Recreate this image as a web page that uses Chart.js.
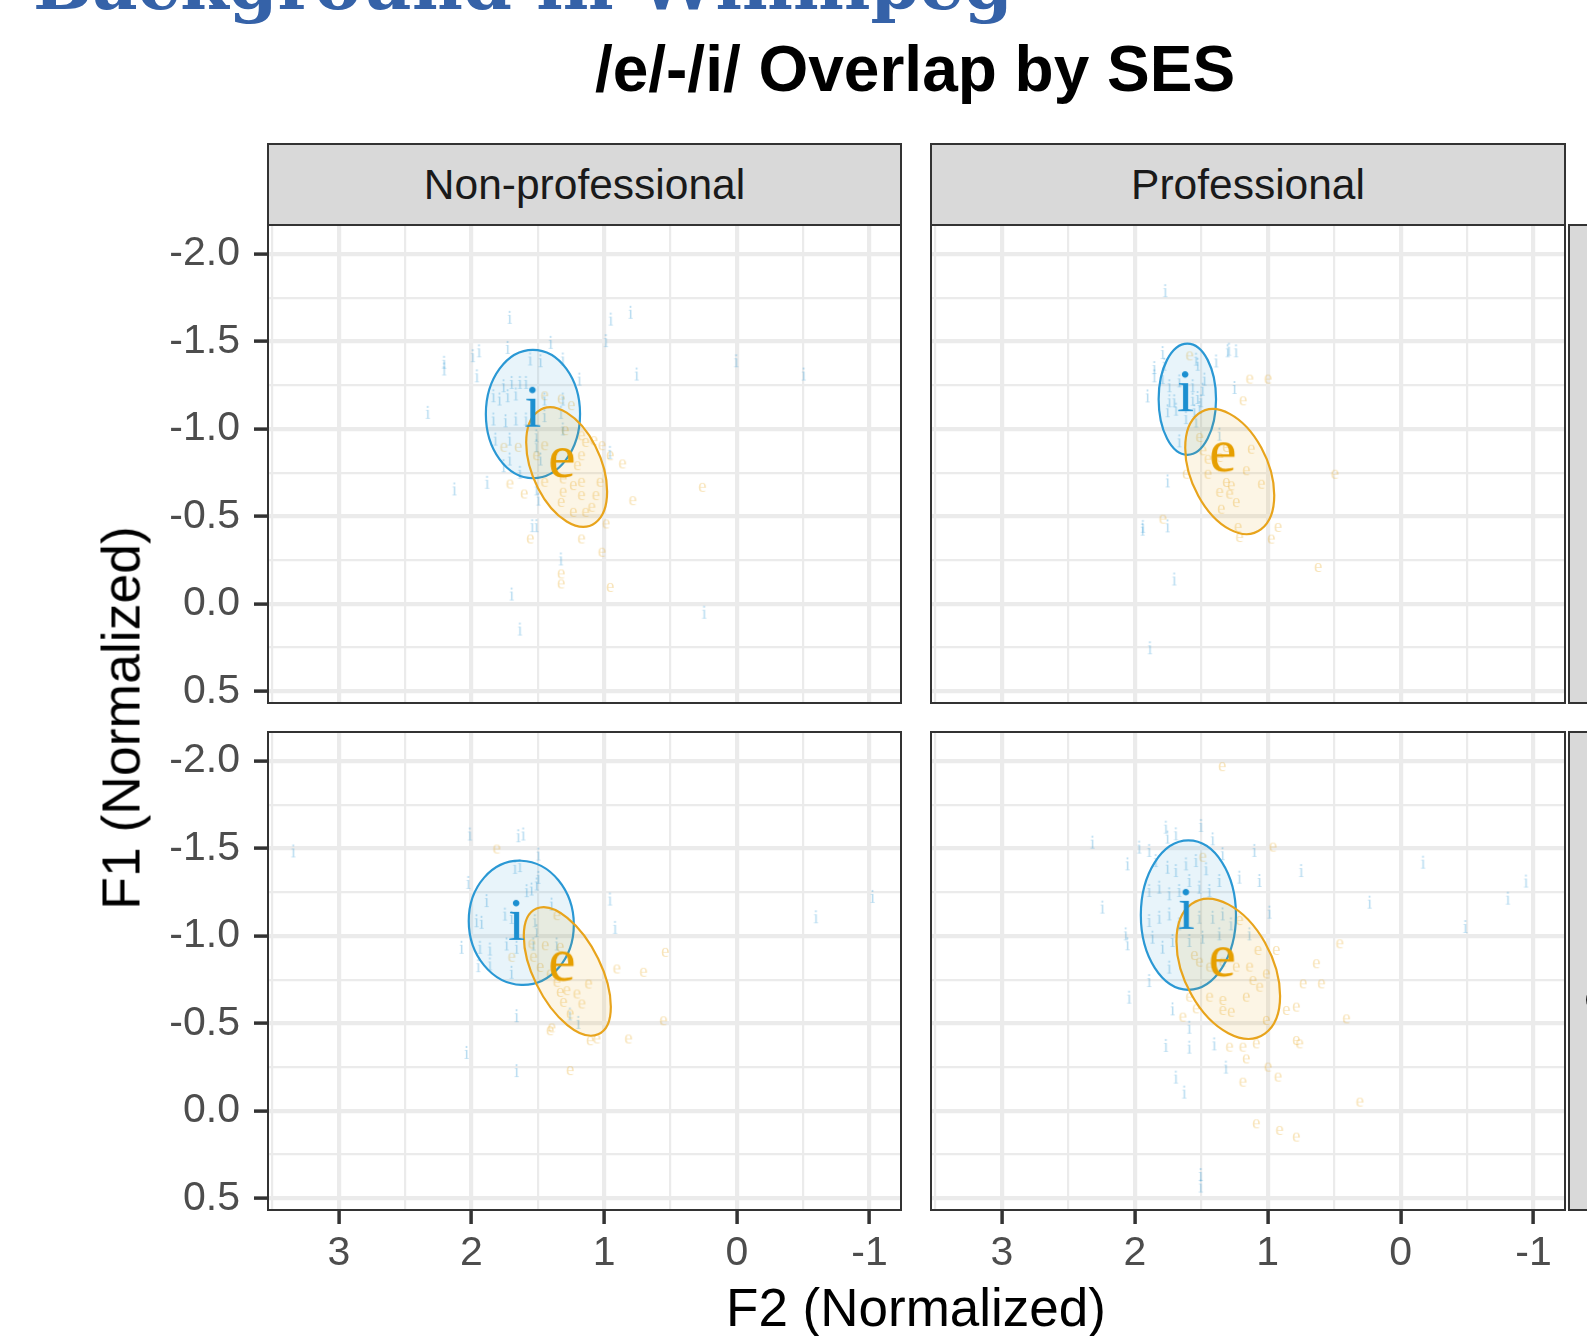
<!DOCTYPE html>
<html>
<head>
<meta charset="utf-8">
<script src="https://cdn.jsdelivr.net/npm/chart.js@4.4.1/dist/chart.umd.min.js"></script>
<style>
html, body { margin: 0; padding: 0; background: #fff; overflow: hidden; }
body { width: 1587px; height: 1336px; position: relative; font-family: "Liberation Sans", Arial, sans-serif; }
canvas { position: absolute; }
.strip { position: absolute; box-sizing: border-box; background: #d9d9d9; border: 2px solid #333;
         color: #1a1a1a; font-size: 42.5px; display: flex; align-items: center; justify-content: center;
         overflow: hidden; white-space: nowrap; }
.vstrip { writing-mode: vertical-rl; }
.txt { position: absolute; white-space: nowrap; }
</style>
</head>
<body>

<div class="txt" style="left:33px; top:-50px; font:bold 70px 'DejaVu Serif'; line-height:70px; color:#3562a8;">Background in Winnipeg</div>
<div class="txt" style="left:0; width:1830px; text-align:center; top:37px; font-weight:bold; font-size:64px; line-height:64px; color:#000;">/e/-/i/ Overlap by SES</div>

<canvas id="c0" width="920" height="525" style="left:0; top:200px;"></canvas>
<canvas id="c1" width="677" height="525" style="left:910px; top:200px;"></canvas>
<canvas id="c2" width="920" height="626" style="left:0; top:710px;"></canvas>
<canvas id="c3" width="677" height="626" style="left:910px; top:710px;"></canvas>

<div class="strip" id="s0" style="left:267px; top:143px; width:635px; height:83px;"></div>
<div class="strip" id="s1" style="left:930px; top:143px; width:636px; height:83px;"></div>
<div class="strip vstrip" id="r0" style="left:1568px; top:224px; width:82px; height:480px;"></div>
<div class="strip vstrip" id="r1" style="left:1568px; top:731px; width:82px; height:480px;"></div>

<div class="txt" style="left:0; width:1832px; text-align:center; top:1281px; font-size:53px; line-height:53px; color:#000;">F2 (Normalized)</div>
<div class="txt" style="left:121px; top:718px; font-size:53.5px; line-height:53px; color:#000; transform:translate(-50%,-50%) rotate(-90deg);">F1 (Normalized)</div>

<script>
// axis ranges and breaks
const xMin = -1.237, xMax = 3.534;
const yMin = -2.166, yMax = 0.567;
const xMajor = [-1, 0, 1, 2, 3];
const xMinor = [-0.5, 0.5, 1.5, 2.5, 3.5];
const xLabels = ['-1', '0', '1', '2', '3'];
const yMajor = [-2.0, -1.5, -1.0, -0.5, 0.0, 0.5];
const yMinor = [-1.75, -1.25, -0.75, -0.25, 0.25];
const yLabels = ['-2.0', '-1.5', '-1.0', '-0.5', '0.0', '0.5'];

const sesGroups = ['Non-professional', 'Professional'];
const rowGroups = ['Older', 'Younger'];

// vowel tokens, [F2, F1]
const iTokensTL = [[1.713,-1.638],[0.951,-1.628],[0.802,-1.667],[0.988,-1.505],[1.404,-1.495],[2.207,-1.381],[2.207,-1.343],[1.991,-1.419],[1.944,-1.447],[1.728,-1.466],[1.559,-1.400],[1.481,-1.390],[1.312,-1.400],[1.960,-1.304],[1.188,-1.285],[0.756,-1.314],[0.006,-1.390],[-0.503,-1.314],[2.330,-1.095],[1.759,-1.247],[1.698,-1.266],[1.636,-1.266],[1.590,-1.266],[1.836,-1.190],[1.790,-1.171],[1.728,-1.190],[1.667,-1.200],[1.451,-1.171],[1.312,-1.171],[1.836,-1.057],[1.744,-1.047],[1.667,-1.057],[1.590,-1.057],[1.451,-1.076],[1.327,-1.095],[1.821,-0.942],[1.713,-0.942],[1.512,-0.961],[1.512,-0.904],[1.713,-0.828],[1.759,-0.790],[1.636,-0.752],[1.481,-0.828],[1.312,-1.000],[2.130,-0.657],[1.883,-0.695],[1.512,-0.657],[1.497,-0.599],[1.543,-0.447],[1.512,-0.447],[1.327,-0.257],[1.698,-0.056],[1.636,0.144],[0.247,0.048],[0.957,-0.866]];
const eTokensTL = [[1.451,-1.190],[1.327,-1.171],[1.250,-1.133],[1.296,-0.990],[1.173,-0.961],[1.142,-0.923],[1.080,-0.933],[1.019,-0.904],[1.759,-0.895],[1.651,-0.895],[1.512,-0.847],[1.451,-0.904],[1.173,-0.847],[0.864,-0.800],[0.957,-0.847],[1.713,-0.685],[1.605,-0.628],[1.451,-0.695],[1.312,-0.714],[1.312,-0.638],[1.235,-0.676],[1.173,-0.695],[1.173,-0.619],[1.034,-0.695],[1.065,-0.619],[1.327,-0.580],[1.235,-0.523],[1.142,-0.523],[1.096,-0.552],[0.262,-0.666],[0.787,-0.590],[0.988,-0.457],[1.559,-0.371],[1.173,-0.371],[1.019,-0.295],[1.327,-0.171],[1.327,-0.114],[0.957,-0.094],[1.204,-0.790]];
const iTokensTR = [[1.791,-1.437],[1.779,-1.370],[1.854,-1.351],[1.854,-1.304],[1.791,-1.294],[1.540,-1.399],[1.528,-1.370],[1.477,-1.285],[1.389,-1.389],[1.302,-1.447],[1.239,-1.447],[1.905,-1.189],[1.741,-1.247],[1.666,-1.275],[1.565,-1.247],[1.490,-1.227],[1.741,-1.161],[1.704,-1.161],[1.565,-1.170],[1.528,-1.180],[1.503,-1.161],[1.754,-1.104],[1.691,-1.113],[1.553,-1.104],[1.515,-1.123],[1.616,-1.065],[1.540,-1.046],[1.364,-0.970],[1.251,-1.237],[1.754,-0.703],[1.942,-0.427],[1.754,-0.446],[1.666,-0.932],[1.772,-1.791],[1.292,-1.456],[1.940,-0.443],[1.704,-0.142],[1.887,0.251]];
const eTokensTR = [[1.590,-1.418],[1.138,-1.285],[1.000,-1.285],[1.188,-1.161],[1.490,-0.875],[1.452,-0.827],[1.364,-0.837],[1.314,-0.894],[1.126,-0.884],[1.163,-0.761],[1.050,-0.684],[1.616,-0.741],[1.314,-0.694],[1.276,-0.675],[1.364,-0.637],[1.289,-0.627],[1.352,-0.541],[1.239,-0.579],[1.791,-0.484],[1.226,-0.437],[1.214,-0.379],[0.925,-0.437],[0.975,-0.370],[0.623,-0.208],[0.497,-0.741],[1.452,-0.741],[1.515,-0.951]];
const iTokensBL = [[2.013,-1.583],[1.648,-1.573],[1.611,-1.583],[1.497,-1.468],[1.497,-1.335],[1.673,-1.392],[1.636,-1.402],[2.025,-1.306],[1.887,-1.202],[1.585,-1.259],[1.548,-1.268],[1.510,-1.297],[1.963,-1.087],[1.925,-1.078],[1.749,-1.125],[1.699,-1.106],[1.523,-1.087],[1.510,-1.030],[1.397,-1.182],[0.957,-1.211],[0.919,-1.049],[2.076,-0.935],[1.937,-0.935],[1.862,-0.925],[1.736,-0.954],[1.950,-0.830],[1.862,-0.840],[1.699,-0.792],[1.661,-0.935],[1.535,-0.954],[1.359,-0.954],[1.661,-0.544],[2.038,-0.334],[1.661,-0.230],[1.196,-0.506],[1.259,-0.554],[3.344,-1.486],[-0.595,-1.110],[-1.022,-1.226]];
const eTokensBL = [[1.812,-1.497],[1.359,-1.116],[1.447,-0.944],[1.334,-0.935],[1.699,-0.878],[1.548,-0.954],[1.535,-0.878],[1.485,-0.820],[1.410,-0.782],[1.359,-0.735],[1.334,-0.677],[1.284,-0.687],[1.208,-0.668],[1.120,-0.725],[1.309,-0.620],[1.259,-0.554],[1.171,-0.611],[0.907,-0.811],[0.706,-0.792],[0.542,-0.906],[0.555,-0.515],[0.819,-0.411],[1.410,-0.458],[1.108,-0.401],[1.058,-0.411],[1.259,-0.230],[1.397,-0.474]];
const iTokensBR = [[2.320,-1.536],[2.056,-1.412],[2.245,-1.165],[1.968,-1.508],[1.893,-1.489],[1.767,-1.622],[1.692,-1.584],[1.755,-1.565],[1.503,-1.632],[1.415,-1.555],[1.843,-1.431],[1.755,-1.393],[1.692,-1.374],[1.616,-1.412],[1.541,-1.431],[1.465,-1.384],[1.340,-1.470],[1.214,-1.336],[1.101,-1.489],[1.063,-1.317],[0.749,-1.374],[-0.168,-1.422],[0.234,-1.193],[1.893,-1.260],[1.817,-1.279],[1.742,-1.241],[1.667,-1.260],[1.591,-1.317],[1.516,-1.279],[1.440,-1.260],[1.365,-1.317],[1.893,-1.088],[1.817,-1.107],[1.742,-1.126],[1.667,-1.069],[1.516,-1.107],[1.415,-1.107],[1.340,-1.126],[1.277,-1.069],[2.069,-1.012],[2.056,-0.955],[1.868,-0.993],[1.792,-0.936],[1.717,-0.974],[1.591,-0.974],[1.491,-0.993],[1.365,-1.012],[1.139,-1.012],[0.988,-1.136],[1.893,-0.745],[2.044,-0.650],[1.717,-0.583],[1.591,-0.478],[1.591,-0.364],[1.767,-0.374],[1.403,-0.383],[1.315,-0.250],[1.692,-0.193],[1.629,-0.107],[1.742,-0.822],[1.505,0.364],[1.505,0.430],[-0.486,-1.054],[-0.807,-1.216],[-0.943,-1.314]];
const eTokensBR = [[0.963,-1.508],[1.491,-1.450],[1.214,-1.088],[1.076,-0.917],[0.938,-0.917],[0.636,-0.841],[0.736,-0.726],[0.598,-0.726],[0.460,-0.955],[1.554,-0.888],[1.516,-0.850],[1.440,-0.822],[1.340,-0.850],[1.239,-0.822],[1.139,-0.822],[1.114,-0.745],[1.013,-0.783],[1.591,-0.650],[1.440,-0.650],[1.340,-0.631],[1.164,-0.650],[1.063,-0.707],[1.541,-0.583],[1.340,-0.574],[1.277,-0.564],[1.641,-0.536],[0.862,-0.574],[0.787,-0.593],[0.410,-0.526],[1.290,-0.364],[1.189,-0.364],[1.164,-0.297],[1.088,-0.383],[0.787,-0.402],[0.762,-0.383],[1.000,-0.250],[0.925,-0.193],[1.189,-0.164],[0.309,-0.050],[1.088,0.074],[0.913,0.112],[0.787,0.150],[1.013,-0.517],[1.345,-1.968]];

// vowel means (label positions), panel order TL, TR, BL, BR
const iMeans = [[1.535,-1.127],[1.616,-1.216],[1.658,-1.092],[1.610,-1.155]];
const eMeans = [[1.317,-0.805],[1.336,-0.838],[1.317,-0.825],[1.340,-0.850]];

// ellipses: centre F2, centre F1, half-width F2, half-height F1, correlation
const iEllipses = [[1.537,-1.085,0.355,0.367,0.0],[1.605,-1.170,0.216,0.318,0.0],[1.625,-1.075,0.396,0.355,-0.03],[1.597,-1.119,0.358,0.427,0.0]];
const eEllipses = [[1.283,-0.782,0.305,0.341,-0.41],[1.286,-0.756,0.335,0.357,-0.38],[1.278,-0.797,0.328,0.367,-0.55],[1.297,-0.812,0.390,0.400,-0.39]];

const blue = '#1b8fd0', orange = '#e69f00';

function letterImage(ch, size, color) {
  const c = document.createElement('canvas');
  let g = c.getContext('2d');
  const font = size + 'px "Liberation Serif"';
  g.font = font;
  const m = g.measureText(ch);
  c.width = Math.ceil(m.actualBoundingBoxLeft + m.actualBoundingBoxRight) + 4;
  c.height = Math.ceil(m.actualBoundingBoxAscent + m.actualBoundingBoxDescent) + 4;
  g = c.getContext('2d');
  g.font = font;
  g.fillStyle = color;
  g.fillText(ch, 2 + m.actualBoundingBoxLeft, 2 + m.actualBoundingBoxAscent);
  return c;
}

const bigI = letterImage('i', 62, blue);
const bigE = letterImage('e', 62, orange);
const smallI = letterImage('i', 19, 'rgba(27,143,208,0.3)');
const smallE = letterImage('e', 19, 'rgba(230,159,0,0.28)');

function drawEllipse(ctx, xs, ys, e, fill, stroke) {
  const [cx, cy, rx, ry, rho] = e;
  const px = xs.getPixelForValue(cx), py = ys.getPixelForValue(cy);
  const sx = xs.getPixelForValue(cx + 1) - px;
  const sy = ys.getPixelForValue(cy + 1) - py;
  ctx.save();
  ctx.beginPath();
  ctx.translate(px, py);
  ctx.transform(sx * rx, sy * rho * ry, 0, sy * ry * Math.sqrt(1 - rho * rho), 0, 0);
  ctx.arc(0, 0, 1, 0, Math.PI * 2);
  ctx.restore();
  ctx.fillStyle = fill;
  ctx.fill();
  ctx.lineWidth = 2.2;
  ctx.strokeStyle = stroke;
  ctx.stroke();
}

function panelPlugin(k) {
  return {
    id: 'panel' + k,
    beforeDatasetDraw(chart, args) {
      if (args.index !== 1) return;
      const ctx = chart.ctx, a = chart.chartArea;
      ctx.save();
      ctx.beginPath();
      ctx.rect(a.left, a.top, a.right - a.left, a.bottom - a.top);
      ctx.clip();
      drawEllipse(ctx, chart.scales.x, chart.scales.y, iEllipses[k], 'rgba(27,143,208,0.1)', '#2a98d4');
      drawEllipse(ctx, chart.scales.x, chart.scales.y, eEllipses[k], 'rgba(230,159,0,0.1)', '#e8a41c');
      ctx.restore();
    },
    afterDraw(chart) {
      const ctx = chart.ctx, a = chart.chartArea;
      ctx.save();
      ctx.lineWidth = 2;
      ctx.strokeStyle = '#333333';
      ctx.strokeRect(a.left, a.top, a.right - a.left, a.bottom - a.top);
      ctx.restore();
    }
  };
}

const tickFont = { family: 'Liberation Sans', size: 41 };

// fix the axis box size so the panel lands where it should
function fixedFit(horizontal, size) {
  return s => {
    if (horizontal) s.height = size; else s.width = size;
    s.paddingTop = s.paddingBottom = s.paddingLeft = s.paddingRight = 0;
  };
}

function xAxis(show) {
  return {
    type: 'linear', reverse: true, min: xMin, max: xMax,
    afterBuildTicks: s => { s.ticks = xMajor.concat(xMinor).sort((a, b) => b - a).map(v => ({ value: v })); },
    ticks: {
      display: show, autoSkip: false, maxRotation: 0, padding: 5, color: '#4d4d4d', font: tickFont,
      callback: v => { const i = xMajor.indexOf(v); return i < 0 ? '' : xLabels[i]; }
    },
    grid: {
      color: '#ebebeb',
      lineWidth: c => (c.tick && xMajor.includes(c.tick.value)) ? 4.2 : 2.2,
      drawTicks: show, tickLength: 14, tickWidth: 3.5,
      tickColor: c => (c.tick && xMajor.includes(c.tick.value)) ? '#333333' : 'rgba(0,0,0,0)'
    },
    border: { display: false },
    afterFit: fixedFit(true, show ? 126 : 0)
  };
}

function yAxis(show) {
  return {
    type: 'linear', reverse: true, min: yMin, max: yMax,
    afterBuildTicks: s => { s.ticks = yMajor.concat(yMinor).sort((a, b) => b - a).map(v => ({ value: v })); },
    ticks: {
      display: show, autoSkip: false, padding: 14, color: '#4d4d4d', font: tickFont,
      callback: v => { const i = yMajor.indexOf(v); return i < 0 ? '' : yLabels[i]; }
    },
    grid: {
      color: '#ebebeb',
      lineWidth: c => (c.tick && yMajor.includes(c.tick.value)) ? 4.2 : 2.2,
      drawTicks: show, tickLength: 14, tickWidth: 3.5,
      tickColor: c => (c.tick && yMajor.includes(c.tick.value)) ? '#333333' : 'rgba(0,0,0,0)'
    },
    border: { display: false },
    afterFit: fixedFit(false, show ? 268 : 0)
  };
}

const panels = [
  { id: 'c0', i: iTokensTL, e: eTokensTL, left: true,  bottom: false, pad: { left: 0, top: 25, right: 19, bottom: 22 } },
  { id: 'c1', i: iTokensTR, e: eTokensTR, left: false, bottom: false, pad: { left: 21, top: 25, right: 22, bottom: 22 } },
  { id: 'c2', i: iTokensBL, e: eTokensBL, left: true,  bottom: true,  pad: { left: 0, top: 22, right: 19, bottom: 0 } },
  { id: 'c3', i: iTokensBR, e: eTokensBR, left: false, bottom: true,  pad: { left: 21, top: 22, right: 22, bottom: 0 } }
];

panels.forEach((p, k) => {
  new Chart(document.getElementById(p.id), {
    type: 'scatter',
    data: {
      datasets: [
        { label: 'i mean', data: [iMeans[k]], pointStyle: bigI, pointRadius: 20 },
        { label: 'e mean', data: [eMeans[k]], pointStyle: bigE, pointRadius: 20 },
        { label: 'i', data: p.i, pointStyle: smallI, pointRadius: 5 },
        { label: 'e', data: p.e, pointStyle: smallE, pointRadius: 5 }
      ]
    },
    options: {
      responsive: false, maintainAspectRatio: false, animation: false, events: [], devicePixelRatio: 1,
      layout: { padding: p.pad, autoPadding: false },
      plugins: { legend: { display: false }, tooltip: { enabled: false }, title: { display: false } },
      scales: { x: xAxis(p.bottom), y: yAxis(p.left) }
    },
    plugins: [panelPlugin(k)]
  });
});

document.getElementById('s0').textContent = sesGroups[0];
document.getElementById('s1').textContent = sesGroups[1];
document.getElementById('r0').textContent = rowGroups[0];
document.getElementById('r1').textContent = rowGroups[1];
</script>
</body>
</html>
